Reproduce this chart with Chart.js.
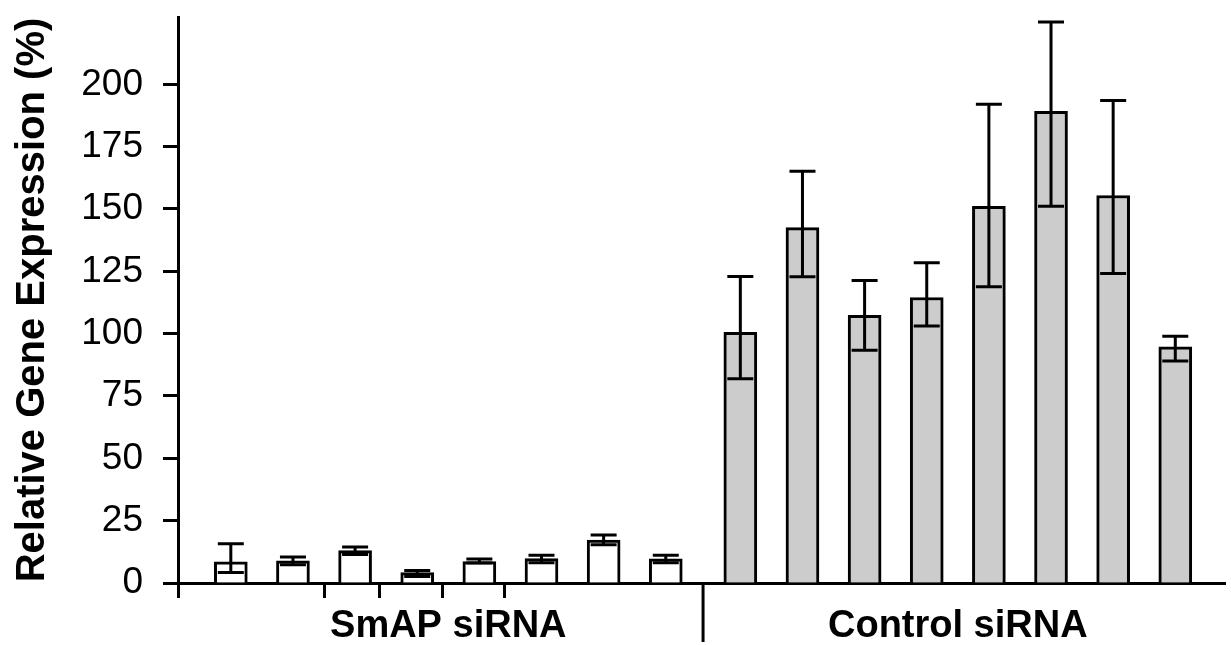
<!DOCTYPE html>
<html lang="en">
<head>
  <meta charset="UTF-8">
  <title>Relative Gene Expression</title>
  <script src="https://cdn.jsdelivr.net/npm/chart.js@4.4.1/dist/chart.umd.min.js"></script>
  <style>
    html, body { margin: 0; padding: 0; background: #fff; }
    #wrap { width: 1231px; height: 645px; position: relative; }
  </style>
</head>
<body>
<div id="wrap"><canvas id="expressionChart"></canvas></div>

<script>
  // values (% relative expression); error bars are uneven, so up and down are kept apart
  const groupLabels = ['SmAP siRNA', 'Control siRNA'];
  const smapValues = [8.5, 8.9, 13.0, 4.2, 8.6, 9.8, 17.2, 9.7];
  const smapErrUp = [7.2, 1.5, 1.4, 0.8, 1.0, 1.3, 2.1, 1.4];
  const smapErrDown = [4.3, 1.6, 1.6, 1.6, 0.6, 1.7, 1.9, 1.6];
  const controlValues = [100.5, 142.5, 107.4, 114.5, 151.1, 189.2, 155.4, 94.7];
  const controlErrUp = [22.4, 22.6, 13.9, 13.9, 40.9, 35.8, 38.1, 4.3];
  const controlErrDown = [18.6, 19.7, 14.1, 11.4, 32.3, 38.1, 31.3, 5.7];
  const yTicks = [0, 25, 50, 75, 100, 125, 150, 175, 200];
  const xTickMarks = [1.5, 2.4, 3.4, 4.4];

  const GROUP_GAP = 8.2;   // x offset of the control group
  const CAP = 13;

  Chart.defaults.font.family = '"Liberation Sans", Arial, Helvetica, sans-serif';
  Chart.defaults.color = '#000';

  const smapPoints = smapValues.map((v, i) => ({ x: i, y: v }));
  const controlPoints = controlValues.map((v, i) => ({ x: i + GROUP_GAP, y: v }));

  const errorBars = {
    id: 'errorBars',
    afterDatasetsDraw(chart) {
      const ctx = chart.ctx;
      const yScale = chart.scales.y;
      ctx.save();
      ctx.strokeStyle = '#000';
      ctx.lineWidth = 3;
      chart.data.datasets.forEach((ds, di) => {
        chart.getDatasetMeta(di).data.forEach((bar, i) => {
          const v = ds.data[i].y;
          const top = yScale.getPixelForValue(v + ds.errUp[i]);
          const bot = yScale.getPixelForValue(v - ds.errDown[i]);
          const cx = bar.x;
          ctx.beginPath();
          ctx.moveTo(cx, top); ctx.lineTo(cx, bot);
          ctx.moveTo(cx - CAP, top); ctx.lineTo(cx + CAP, top);
          ctx.moveTo(cx - CAP, bot); ctx.lineTo(cx + CAP, bot);
          ctx.stroke();
        });
      });
      ctx.restore();
    }
  };

  // group names under the axis and the divider between the groups
  const groupAxis = {
    id: 'groupAxis',
    afterDraw(chart) {
      const { ctx, chartArea } = chart;
      const x = chart.scales.x;
      const nL = smapValues.length, nR = controlValues.length;
      const lastLeft = x.getPixelForValue(nL - 1);
      const firstRight = x.getPixelForValue(GROUP_GAP);
      const centers = [
        (x.getPixelForValue(0) + lastLeft) / 2,
        (firstRight + x.getPixelForValue(GROUP_GAP + nR - 1)) / 2
      ];
      const sep = (lastLeft + firstRight) / 2;

      ctx.save();
      ctx.strokeStyle = '#000';
      ctx.lineWidth = 3;
      ctx.beginPath();
      ctx.moveTo(sep, chartArea.bottom);
      ctx.lineTo(sep, chartArea.bottom + 59);
      ctx.stroke();

      ctx.fillStyle = '#000';
      ctx.font = 'bold 38px "Liberation Sans", Arial, sans-serif';
      ctx.textAlign = 'center';
      ctx.textBaseline = 'alphabetic';
      groupLabels.forEach((t, i) => ctx.fillText(t, centers[i], chartArea.bottom + 54));
      ctx.restore();
    }
  };

  new Chart(document.getElementById('expressionChart'), {
    type: 'bar',
    data: {
      datasets: [{
        label: groupLabels[0],
        data: smapPoints,
        errUp: smapErrUp,
        errDown: smapErrDown,
        backgroundColor: '#ffffff',
        borderColor: '#000',
        borderWidth: 3,
        barThickness: 33,
        grouped: false
      }, {
        label: groupLabels[1],
        data: controlPoints,
        errUp: controlErrUp,
        errDown: controlErrDown,
        backgroundColor: '#cccccc',
        borderColor: '#000',
        borderWidth: 3,
        barThickness: 33,
        grouped: false
      }]
    },
    options: {
      responsive: true,
      maintainAspectRatio: false,
      animation: false,
      layout: { padding: { top: 17, right: 6, left: 0, bottom: 0 } },
      plugins: {
        legend: { display: false },
        tooltip: { enabled: false }
      },
      scales: {
        x: {
          type: 'linear',
          min: -0.85,
          max: 16,
          offset: false,
          afterBuildTicks: s => { s.ticks = [s.min, ...xTickMarks].map(v => ({ value: v })); },
          afterFit: s => { s.height = 62; s.paddingLeft = 0; s.paddingRight = 0; },
          border: { display: true, color: '#000', width: 3 },
          grid: { offset: false, drawOnChartArea: false, drawTicks: true, tickLength: 15, tickWidth: 3, tickColor: '#000' },
          ticks: { display: false }
        },
        y: {
          min: 0,
          max: 227,
          afterBuildTicks: s => { s.ticks = yTicks.map(v => ({ value: v })); },
          afterFit: s => { s.width = 178; s.paddingTop = 0; s.paddingBottom = 0; },
          border: { display: true, color: '#000', width: 3 },
          grid: { drawOnChartArea: false, drawTicks: true, tickLength: 15, tickWidth: 3, tickColor: '#000' },
          ticks: { color: '#000', font: { size: 37 }, padding: 20 },
          title: {
            display: true,
            text: 'Relative Gene Expression (%)',
            color: '#000',
            font: { size: 40, weight: 'bold' },
            padding: { top: 9, bottom: 0 }
          }
        }
      }
    },
    plugins: [errorBars, groupAxis]
  });
</script>
</body>
</html>
